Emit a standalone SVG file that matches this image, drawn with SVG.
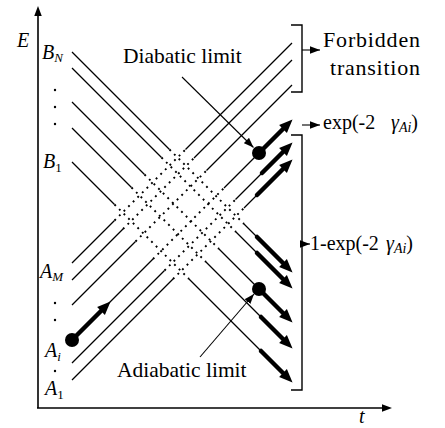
<svg xmlns="http://www.w3.org/2000/svg" width="445" height="428" viewBox="0 0 445 428">
<style>
text{font-family:"Liberation Serif","Times New Roman",serif;fill:#000}
.it{font-style:italic}
.lbl{font-size:21.5px}
.thin{stroke:#000;stroke-width:1.3;fill:none}
.dot{stroke:#000;stroke-width:1.9;fill:none;stroke-dasharray:1.9 4.6}
.thick{stroke:#000;stroke-width:4.5;fill:none;stroke-linecap:round;marker-end:url(#big)}
.ptr{stroke:#000;stroke-width:1.1;fill:none;marker-end:url(#small)}
.ax{stroke:#000;stroke-width:1.6;fill:none;marker-end:url(#axh)}
.br{stroke:#000;stroke-width:1.4;fill:none}
</style>
<defs>
<marker id="big" markerUnits="userSpaceOnUse" markerWidth="16" markerHeight="14" refX="0" refY="5.5" orient="auto" viewBox="0 0 16 11" overflow="visible"><path d="M0,0 L13.5,5.5 L0,11 z" fill="#000"/></marker>
<marker id="small" markerUnits="userSpaceOnUse" markerWidth="10" markerHeight="8" refX="8" refY="3" orient="auto" viewBox="0 0 8 6"><path d="M0,0 L8,3 L0,6 z" fill="#000"/></marker>
<marker id="axh" markerUnits="userSpaceOnUse" markerWidth="10" markerHeight="8" refX="0" refY="3" orient="auto" viewBox="0 0 8 6" overflow="visible"><path d="M0,0 L8,3 L0,6 z" fill="#000"/></marker>
</defs>

<g id="axes">
<line class="ax" x1="38" y1="408" x2="38" y2="16"/>
<line class="ax" x1="37" y1="408" x2="382" y2="408"/>
<text class="it" x="17" y="47" font-size="20">E</text>
<text class="it" x="359" y="423" font-size="20">t</text>
</g>

<g id="labels-left">
<text class="it" x="42" y="59" font-size="20">B<tspan font-size="13" dy="3">N</tspan></text>
<circle cx="55" cy="90" r="1.2"/><circle cx="55" cy="107" r="1.2"/><circle cx="55" cy="124" r="1.2"/>
<text class="it" x="43" y="168" font-size="20">B<tspan font-style="normal" font-size="13" dy="4">1</tspan></text>
<text class="it" x="40" y="278" font-size="20">A<tspan font-size="13" dy="3">M</tspan></text>
<circle cx="55" cy="303" r="1.2"/><circle cx="55" cy="320" r="1.2"/>
<text class="it" x="45" y="357" font-size="20">A<tspan font-size="13" dy="4">i</tspan></text>
<circle cx="55" cy="371" r="1.2"/>
<text class="it" x="45" y="395" font-size="20">A<tspan font-style="normal" font-size="13" dy="4">1</tspan></text>
</g>

<g id="connectors">
<!-- descending B states: y = x + c -->
<path class="thin" d="M72,52 L169.5,149.5 M244,224 L257,237"/>
<path class="dot" d="M169.5,149.5 L244,224"/>
<line class="thick" x1="257" y1="237" x2="283" y2="263"/>

<path class="thin" d="M72,68 L161.5,157.5 M236,232 L257,253"/>
<path class="dot" d="M161.5,157.5 L236,232"/>
<line class="thick" x1="257" y1="253" x2="283" y2="279"/>

<path class="thin" d="M72,102 L144.5,174.5 M219,249 L259,289"/>
<path class="dot" d="M144.5,174.5 L219,249"/>
<line class="thick" x1="259" y1="289" x2="283" y2="313"/>

<path class="thin" d="M72,128 L131.5,187.5 M206,262 L261,317"/>
<path class="dot" d="M131.5,187.5 L206,262"/>
<line class="thick" x1="261" y1="317" x2="283" y2="339"/>

<path class="thin" d="M72,162 L114.5,204.5 M189,279 L261,351"/>
<path class="dot" d="M114.5,204.5 L189,279"/>
<line class="thick" x1="261" y1="351" x2="283" y2="373"/>

<!-- ascending A states: y = -x + d -->
<path class="thin" d="M72,263 L114.5,220.5 M185.5,149.5 L292,43"/>
<path class="dot" d="M114.5,220.5 L185.5,149.5"/>

<path class="thin" d="M72,280 L123,229 M194,158 L292,60"/>
<path class="dot" d="M123,229 L194,158"/>

<path class="thin" d="M72,305 L135.5,241.5 M206.5,170.5 L292,85"/>
<path class="dot" d="M135.5,241.5 L206.5,170.5"/>

<line class="thick" x1="72" y1="340" x2="101" y2="311"/>
<path class="thin" d="M100,312 L153,259 M224,188 L259,153"/>
<path class="dot" d="M153,259 L224,188"/>
<line class="thick" x1="259" y1="153" x2="283" y2="129"/>

<path class="thin" d="M72,363 L164.5,270.5 M235.5,199.5 L262,173"/>
<path class="dot" d="M164.5,270.5 L235.5,199.5"/>
<line class="thick" x1="262" y1="173" x2="283" y2="152"/>

<path class="thin" d="M72,380 L173,279 M244,208 L257,195"/>
<path class="dot" d="M173,279 L244,208"/>
<line class="thick" x1="257" y1="195" x2="283" y2="169"/>

<!-- limit pointers -->
<line class="ptr" x1="182" y1="77" x2="253.5" y2="147.5"/>
<line class="ptr" x1="200" y1="357" x2="254" y2="294"/>
</g>

<g id="states">
<circle cx="72" cy="340" r="7"/>
<circle cx="259" cy="153" r="7"/>
<circle cx="259" cy="289" r="7"/>
</g>

<g id="diabatic-label"><text class="lbl" x="123" y="63">Diabatic limit</text></g>
<g id="adiabatic-label"><text class="lbl" x="117" y="377">Adiabatic limit</text></g>

<g id="forbidden">
<path class="br" d="M291,25 H302 V92 H291"/>
<line class="ptr" x1="302" y1="50" x2="320" y2="50"/>
<text x="323" y="47" font-size="22" textLength="97">Forbidden</text>
<text x="330" y="75" font-size="22" textLength="90">transition</text>
</g>

<g id="exp">
<line class="ptr" x1="302" y1="125" x2="320" y2="125"/>
<text x="323" y="129" font-size="20">exp(-2<tspan class="it" x="391">γ</tspan><tspan class="it" font-size="14" dy="3">Ai</tspan><tspan dy="-3">)</tspan></text>
</g>

<g id="one-minus-exp">
<path class="br" d="M291,135 H302 V390 H291"/>
<line class="ptr" x1="302" y1="244" x2="310" y2="244"/>
<text x="310" y="250" font-size="20">1-exp(-2<tspan class="it" x="386">γ</tspan><tspan class="it" font-size="14" dy="3">Ai</tspan><tspan dy="-3">)</tspan></text>
</g>
</svg>
